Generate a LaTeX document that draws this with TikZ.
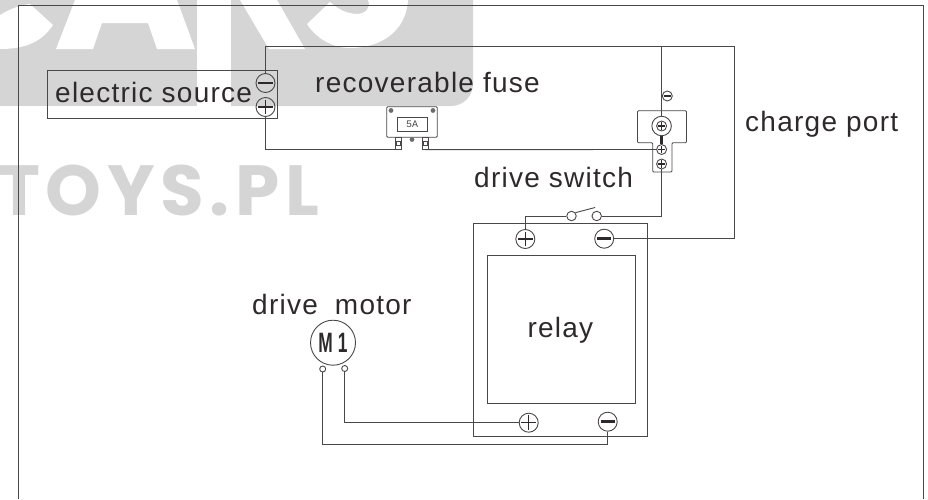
\documentclass[tikz,border=0pt]{standalone}
\usepackage{fontspec}
\setmainfont[LetterSpace=4.5]{Liberation Sans}
\newfontfamily\markfont[LetterSpace=8]{Poppins}
\newfontfamily\fusefont{Liberation Mono}
\newfontfamily\motorfont{Liberation Sans}
\usepackage{tikz}
\definecolor{wirecol}{HTML}{4A4747}
\definecolor{markcol}{HTML}{D5D5D5}
\definecolor{inkcol}{HTML}{2E2A2B}
\tikzset{
	wire/.style={draw=wirecol, line width=0.9pt},
	label/.style={anchor=base west, inner sep=0pt, text=inkcol, font=\fontsize{28}{30}\selectfont},
	plusterm/.style={circle, wire, minimum size=#1, inner sep=0pt,
		path picture={
			\draw[inkcol, line width=1.1pt, shorten >=#1*0.12pt, shorten <=#1*0.12pt] (path picture bounding box.west) -- (path picture bounding box.east);
			\draw[inkcol, line width=1.1pt, shorten >=#1*0.12pt, shorten <=#1*0.12pt] (path picture bounding box.north) -- (path picture bounding box.south);
		}},
	minusterm/.style={circle, wire, minimum size=#1, inner sep=0pt,
		path picture={
			\draw[inkcol, line width=#1*0.14pt, shorten >=#1*0.13pt, shorten <=#1*0.13pt] (path picture bounding box.west) -- (path picture bounding box.east);
		}},
	openterm/.style={circle, wire, minimum size=#1, inner sep=0pt},
	fuseterm/.style={draw=wirecol, line width=0.7pt, fill=white, minimum width=6pt, minimum height=12pt, inner sep=0pt}
}
\begin{document}
\begin{tikzpicture}[x=1pt, y=-1pt]
\useasboundingbox (0,0) rectangle (928,499);
% banner
\fill[markcol] (0,0) -- (197,0) -- (197,106) -- (0,106) -- cycle;
\fill[markcol] (231,0) -- (473,0) [rounded corners=22pt] -- (473,106) [sharp corners] -- (231,106) -- cycle;
\fill[white] (0,15) .. controls (10,9) and (20,5) .. (30,4) -- (53,25) .. controls (42,42) and (25,49) .. (0,49) -- cycle;
\fill[white] (56,49) -- (75,0) -- (177,0) -- (195,49) -- (157,49) -- (148,23) -- (102,23) -- (93,49) -- cycle;
\fill[white] (240,0) -- (269,49) -- (305,49) -- (277,0) -- cycle;
\fill[white] (330,2) .. controls (338,9) and (345,13) .. (356,14) .. controls (366,14) and (371,8) .. (368,0) -- (408,0) .. controls (406,32) and (380,48) .. (350,48) .. controls (332,48) and (316,38) .. (307,24) -- cycle;
\node[anchor=base west, inner sep=0pt, text=markcol, font=\markfont\bfseries\fontsize{71}{71}\selectfont] (marklabel) at (-2,215) {TOYS.PL};
% frame
\draw[wire] (18,499) -- (18,5.5) -- (923,5.5) -- (923,499);
% source and relay
\node[wire, minimum width=230pt, minimum height=48pt, inner sep=0pt] (source) at (162.5,94) {};
\node[wire, minimum width=174.5pt, minimum height=213.5pt, inner sep=0pt] (relayout) at (560.2,330) {};
\node[wire, minimum width=148.5pt, minimum height=148pt, inner sep=0pt] (relayin) at (561.5,329.3) {};
\node[label] (sourcelabel) at (55,102.7) {electric source};
\node[label] (fuselabel) at (315,92) {recoverable fuse};
\node[label] (portlabel) at (745,131.7) {charge port};
\node[label] (switchlabel) at (474,187.3) {drive switch};
\node[label] (motorlabel) at (252,314) {drive\hspace{8pt} motor};
\node[label] (relaylabel) at (527.3,337.7) {relay};
% terminals
\node[minusterm=19pt] (srcminus) at (265.5,83) {};
\node[plusterm=19pt] (srcplus) at (265.5,107) {};
\node[plusterm=19pt] (relayplus) at (525.3,239) {};
\node[minusterm=19pt] (relayminus) at (604.2,238.7) {};
\node[plusterm=19pt] (lowplus) at (528.7,422.7) {};
\node[minusterm=19pt] (lowminus) at (607.7,421.7) {};
\node[openterm=9.5pt] (switchl) at (571.5,216) {};
\node[openterm=9.5pt] (switchr) at (596.7,216) {};
\coordinate (switchtip) at (595,207.5);
\coordinate (topcorner) at (734.5,46);
\coordinate (topfork) at (661.6,46);
% fuse
\node[draw=wirecol, line width=0.9pt, rounded corners=1pt, minimum width=50.5pt, minimum height=30.5pt, inner sep=0pt] (fuse) at (412,122) {};
\node[draw=wirecol, line width=0.7pt, minimum width=30pt, minimum height=14pt, inner sep=0pt, text=wirecol, font=\fusefont\fontsize{10}{10}\selectfont] (fusebox) at (412,124.7) {5A};
\foreach \x in {391,433}{
	\fill[wirecol!80] (\x,110.5) circle (2.4pt);
}
\node[fuseterm] (fusel) at (398,143.3) {};
\node[fuseterm] (fuser) at (425,143.3) {};
\foreach \x in {398,425}{
	\draw[wirecol, line width=0.6pt] (\x-2,141) rectangle (\x+2,145);
}
\fill[wirecol!80] (412,139.5) circle (2.4pt);
% bracket
\draw[wire, rounded corners=1pt] (637.5,110.7) -- (686.5,110.7) -- (686.5,142.7) -- (672,142.7) -- (672,172) -- (652.7,172) -- (652.7,142.7) -- (637.5,142.7) -- cycle;
\node[wire, circle, minimum size=19.5pt, inner sep=0pt] (bolt) at (661.6,126) {};
\node[plusterm=10pt] (boltin) at (661.6,126) {};
\node[plusterm=10pt] (tabmid) at (661.6,149.5) {};
\node[plusterm=10pt] (tablow) at (661.6,164) {};
\node[minusterm=10pt] (tabminus) at (667.3,96) {};
\draw[inkcol, line width=2.4pt] (bolt) -- (tabmid);
% motor
\node[circle, wire, minimum size=45pt, inner sep=0pt] (motor) at (333,342.7) {};
\node[inner sep=0pt, xscale=0.62, text=inkcol, font=\motorfont\bfseries\fontsize{28}{28}\selectfont] (motorname) at (333,343) {M\hspace{8pt}1};
\node[openterm=6pt] (motorl) at (322.7,369) {};
\node[openterm=6pt] (motorr) at (344.7,368.5) {};
% wires
\draw[wire] (srcminus) |- (topcorner) |- (relayminus);
\draw[wire] (topfork) -- (bolt);
\draw[wire] (srcplus) |- (fusel.south);
\draw[wire] (fuser.south) -- (tabmid);
\draw[wire] (tablow) |- (switchr);
\draw[wire] (switchl) -| (relayplus);
\draw[wire] (switchl.40) -- (switchtip);
\draw[wire] (motorr) |- (lowplus);
\coordinate (lowcorner) at (607.7,444.4);
\draw[wire] (motorl) |- (lowcorner) -- (lowminus);
\end{tikzpicture}
\end{document}
